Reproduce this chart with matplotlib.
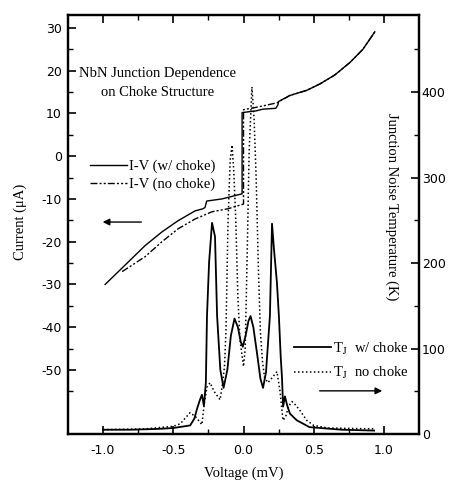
import matplotlib
matplotlib.use("Agg")
import matplotlib.pyplot as plt
from matplotlib.ticker import MultipleLocator, FixedLocator

plt.rcParams['mathtext.fontset'] = 'stix'

# I-V with choke (voltage mV, current uA)
iv_choke_v = [-0.985, -0.85, -0.70, -0.58, -0.466, -0.345, -0.288, -0.274, -0.262, -0.153, -0.01,
              -0.01, 0.09, 0.137, 0.23, 0.245, 0.25, 0.33, 0.45, 0.544, 0.65, 0.757, 0.85, 0.935]
iv_choke_i = [-30.0, -25.7, -20.9, -17.7, -15.1, -12.8, -12.3, -12.0, -10.5, -10.0, -8.8,
              10.2, 10.6, 11.0, 11.2, 12.0, 12.8, 14.2, 15.4, 16.9, 19.0, 21.9, 25.0, 29.1]

# I-V without choke
iv_nochoke_v = [-0.864, -0.70, -0.58, -0.466, -0.345, -0.224, -0.11, -0.0,
                0.0, 0.07, 0.13, 0.24, 0.26, 0.33, 0.45, 0.544, 0.65, 0.757, 0.85, 0.935]
iv_nochoke_i = [-27.0, -23.5, -20.0, -17.0, -14.7, -13.0, -12.3, -11.2,
                10.9, 11.3, 11.7, 12.5, 12.9, 14.2, 15.4, 16.9, 19.0, 21.9, 25.0, 29.1]

# Junction noise temperature with choke (K)
tj_choke_v = [-1.0, -0.8, -0.6, -0.5, -0.38, -0.35, -0.33, -0.31, -0.296, -0.282, -0.268,
              -0.26, -0.245, -0.224, -0.203, -0.188, -0.165, -0.142, -0.115, -0.09, -0.064,
              -0.04, -0.02, -0.005, 0.015, 0.035, 0.05, 0.07, 0.1, 0.12, 0.139, 0.16, 0.188,
              0.203, 0.217, 0.238, 0.252, 0.265, 0.274, 0.282, 0.295, 0.31, 0.33, 0.36, 0.38,
              0.47, 0.7, 0.93]
tj_choke_t = [5, 5, 6, 7, 10, 18, 30, 40, 46, 33, 60,
              138, 201, 247, 231, 138, 75, 54, 75, 115, 135,
              125, 108, 102, 115, 132, 138, 125, 90, 65, 54, 72, 138,
              246, 216, 177, 138, 90, 66, 32, 44, 34, 24, 19, 16,
              8, 5, 4]

# Junction noise temperature without choke (K)
tj_nochoke_v = [-1.0, -0.7, -0.5, -0.45, -0.38, -0.34, -0.296, -0.28, -0.26, -0.238,
                -0.21, -0.167, -0.15, -0.135, -0.125, -0.11, -0.095, -0.082, -0.07, -0.055,
                -0.04, -0.025, 0.0, 0.012, 0.025, 0.04, 0.06, 0.075, 0.09, 0.105, 0.12, 0.135,
                0.15, 0.174, 0.205, 0.238, 0.26, 0.281, 0.30, 0.32, 0.345, 0.37, 0.40, 0.45,
                0.5, 0.6, 0.93]
tj_nochoke_t = [5, 6, 9, 12, 25, 20, 11, 35, 55, 60,
                50, 40, 58, 80, 120, 250, 320, 338, 310, 250,
                160, 110, 79, 100, 200, 330, 406, 370, 300, 200, 120, 85,
                66, 60, 66, 73, 50, 16, 20, 32, 38, 34, 28, 16,
                10, 7, 6]

fig = plt.figure(figsize=(4.56, 4.82), dpi=100)
ax = fig.add_axes([0.149, 0.0996, 0.770, 0.869])
ax2 = ax.twinx()

tickfont = dict(family='DejaVu Sans', size=9)
serif = 'Liberation Serif'
fs = 10.5

# I-V curves on the left axis
ax.plot(iv_choke_v, iv_choke_i, color='black', lw=1.0, label='I-V (w/ choke)')
ax.plot(iv_nochoke_v, iv_nochoke_i, color='black', lw=1.0, dashes=(5, 1.5, 1.5, 1.5, 1.5, 1.5),
        label='I-V (no choke)')

# noise temperature on the right axis
ax2.plot(tj_choke_v, tj_choke_t, color='black', lw=1.3, label=r'T$_\mathrm{J}$  w/ choke')
ax2.plot(tj_nochoke_v, tj_nochoke_t, color='black', lw=1.1, dashes=(1, 1.6),
         label=r'T$_\mathrm{J}$  no choke')

ax.set_xlim(-1.25, 1.25)
ax.set_ylim(-65, 33)
ax2.set_ylim(0, 490)

ax.xaxis.set_major_locator(FixedLocator([-1.0, -0.5, 0.0, 0.5, 1.0]))
ax.xaxis.set_minor_locator(FixedLocator([-0.75, -0.25, 0.25, 0.75]))
ax.yaxis.set_major_locator(FixedLocator(list(range(-50, 31, 10))))
ax.yaxis.set_minor_locator(FixedLocator(list(range(-55, 31, 10))))
ax2.yaxis.set_major_locator(MultipleLocator(100))
ax2.yaxis.set_minor_locator(FixedLocator([50, 150, 250, 350, 450]))

ax.set_xticklabels(['-1.0', '-0.5', '0.0', '0.5', '1.0'])
ax.set_yticklabels([str(v) for v in range(-50, 31, 10)])

ax.tick_params(axis='x', which='both', direction='in', top=True, pad=7.5)
ax.tick_params(axis='y', which='both', direction='in', right=False, pad=4.5)
ax2.tick_params(axis='y', which='both', direction='in', pad=2)
for a in (ax, ax2):
    a.tick_params(which='major', length=5.5, width=1.2)
    a.tick_params(which='minor', length=3.5, width=1.0)
    for lab in a.get_xticklabels() + a.get_yticklabels():
        lab.set_fontfamily(tickfont['family'])
        lab.set_fontsize(tickfont['size'])
for s in ax.spines.values():
    s.set_linewidth(1.6)
for s in ax2.spines.values():
    s.set_linewidth(1.6)

ax.set_xlabel('Voltage (mV)', family=serif, size=fs)
ax.xaxis.set_label_coords(0.5, -0.077)
ax.set_ylabel('Current (\u03bcA)', family=serif, size=fs)
ax.yaxis.set_label_coords(-0.118, 0.506)
ax2.set_ylabel('Junction Noise Temperature (K)', family=serif, size=fs, rotation=270, va='center')
ax2.yaxis.set_label_coords(0.923, 0.542)

ax.text(0.255, 0.839, 'NbN Junction Dependence\non Choke Structure', transform=ax.transAxes,
        ha='center', va='center', family=serif, size=fs, linespacing=1.6)

leg1 = ax.legend(loc='upper left', bbox_to_anchor=(0.063, 0.655), frameon=False,
                 prop=dict(family=serif, size=fs), handlelength=2.55, handletextpad=0.15,
                 labelspacing=0.3, borderaxespad=0, borderpad=0)
leg2 = ax2.legend(loc='upper left', bbox_to_anchor=(0.643, 0.223), frameon=False,
                  prop=dict(family=serif, size=fs), handlelength=2.55, handletextpad=0.15,
                  labelspacing=0.55, borderaxespad=0, borderpad=0)

ax.annotate('', xy=(0.091, 0.506), xytext=(0.217, 0.506), xycoords='axes fraction',
            arrowprops=dict(arrowstyle='-|>', color='black', lw=1.0, mutation_scale=10))
ax.annotate('', xy=(0.903, 0.103), xytext=(0.709, 0.103), xycoords='axes fraction',
            arrowprops=dict(arrowstyle='-|>', color='black', lw=1.0, mutation_scale=10))

fig.savefig('out.png', dpi=100)
